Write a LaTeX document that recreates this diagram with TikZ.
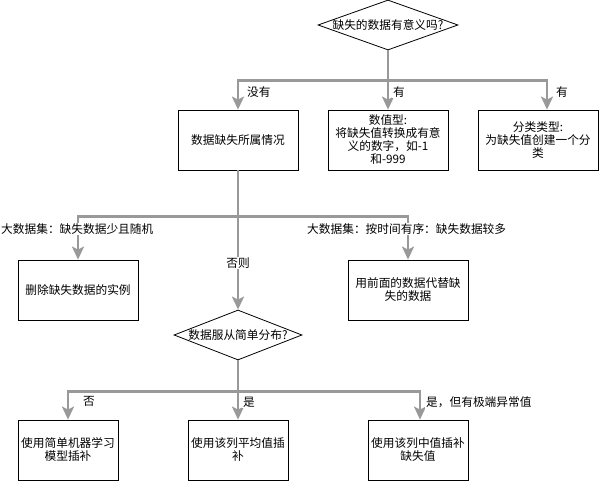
\documentclass[tikz,border=0pt]{standalone}
\usepackage{fontspec}
\setmainfont{Noto Sans CJK SC}
\usetikzlibrary{shapes.geometric,arrows.meta}
\definecolor{edgegray}{HTML}{999999}
\begin{document}
\begin{tikzpicture}[x=1pt,y=-1pt,
  font=\fontsize{11.7}{13}\selectfont,
  box/.style={draw=black, line width=0.8pt, minimum width=#1, minimum height=60pt, inner sep=0pt, align=center, fill=white},
  box/.default=120pt,
  dia/.style={draw=black, shape=diamond, line width=0.8pt, minimum width=#1, minimum height=50pt, inner sep=0pt},
  edge/.style={draw=edgegray, line width=2.5pt, -{Stealth[width=12pt,length=13pt,inset=3pt]}},
  lab/.style={inner sep=1pt, anchor=west, fill=white},
]
\useasboundingbox (0,0) rectangle (599,481);
\node[dia=140pt] (d1) at (388,25) {\makebox[0pt]{缺失的数据有意义吗?}};
\node[box] (b1) at (238,140) {数据缺失所属情况};
\node[box] (b2) at (388,140) {数值型:\\将缺失值转换成有意\\义的数字，如-1\\和-999};
\node[box] (b3) at (538,140) {分类类型:\\为缺失值创建一个分\\类};
\coordinate (b3in) at ([xshift=9pt]b3.north);
\node[box] (b4) at (78,290) {删除缺失数据的实例};
\node[box] (b5) at (408,290) {用前面的数据代替缺\\失的数据};
\node[dia=128pt] (d2) at (238,335) {\makebox[0pt]{数据服从简单分布?}};
\node[box=100pt] (b6) at (68,450) {使用简单机器学习\\模型插补};
\node[box=100pt] (b7) at (238,450) {使用该列平均值插\\补};
\node[box=100pt] (b8) at (418,450) {使用该列中值插补\\缺失值};
\coordinate (b8in) at ([xshift=2pt]b8.north);

\draw[edge] (d1.south) -- ++(0,30) -| (b1.north);
\draw[edge] (d1.south) -- (b2.north);
\draw[edge] (d1.south) -- ++(0,30) -| (b3in);
\draw[edge] (b1.south) -- ++(0,46) -| (b4.north);
\draw[edge] (b1.south) -- ++(0,46) -| (b5.north);
\draw[edge] (b1.south) -- (d2.north);
\draw[edge] (d2.south) -- ++(0,31) -| (b6.north);
\draw[edge] (d2.south) -- (b7.north);
\draw[edge] (d2.south) -- ++(0,31) -| (b8in);

\node[lab] (l1) at (246,92) {没有};
\node[lab] (l2) at (392,92) {有};
\node[lab] (l3) at (555,92) {有};
\node[lab] (l4) at (0,229) {大数据集：缺失数据少且随机};
\node[lab] (l6) at (306,229) {大数据集：按时间有序：缺失数据较多};
\node[fill=white, inner sep=1pt] (l5) at (238,263) {否则};
\node[lab] (l7) at (82,401) {否};
\node[lab] (l8) at (242,402) {是};
\node[lab] (l9) at (425,402) {是，但有极端异常值};
\end{tikzpicture}
\end{document}
